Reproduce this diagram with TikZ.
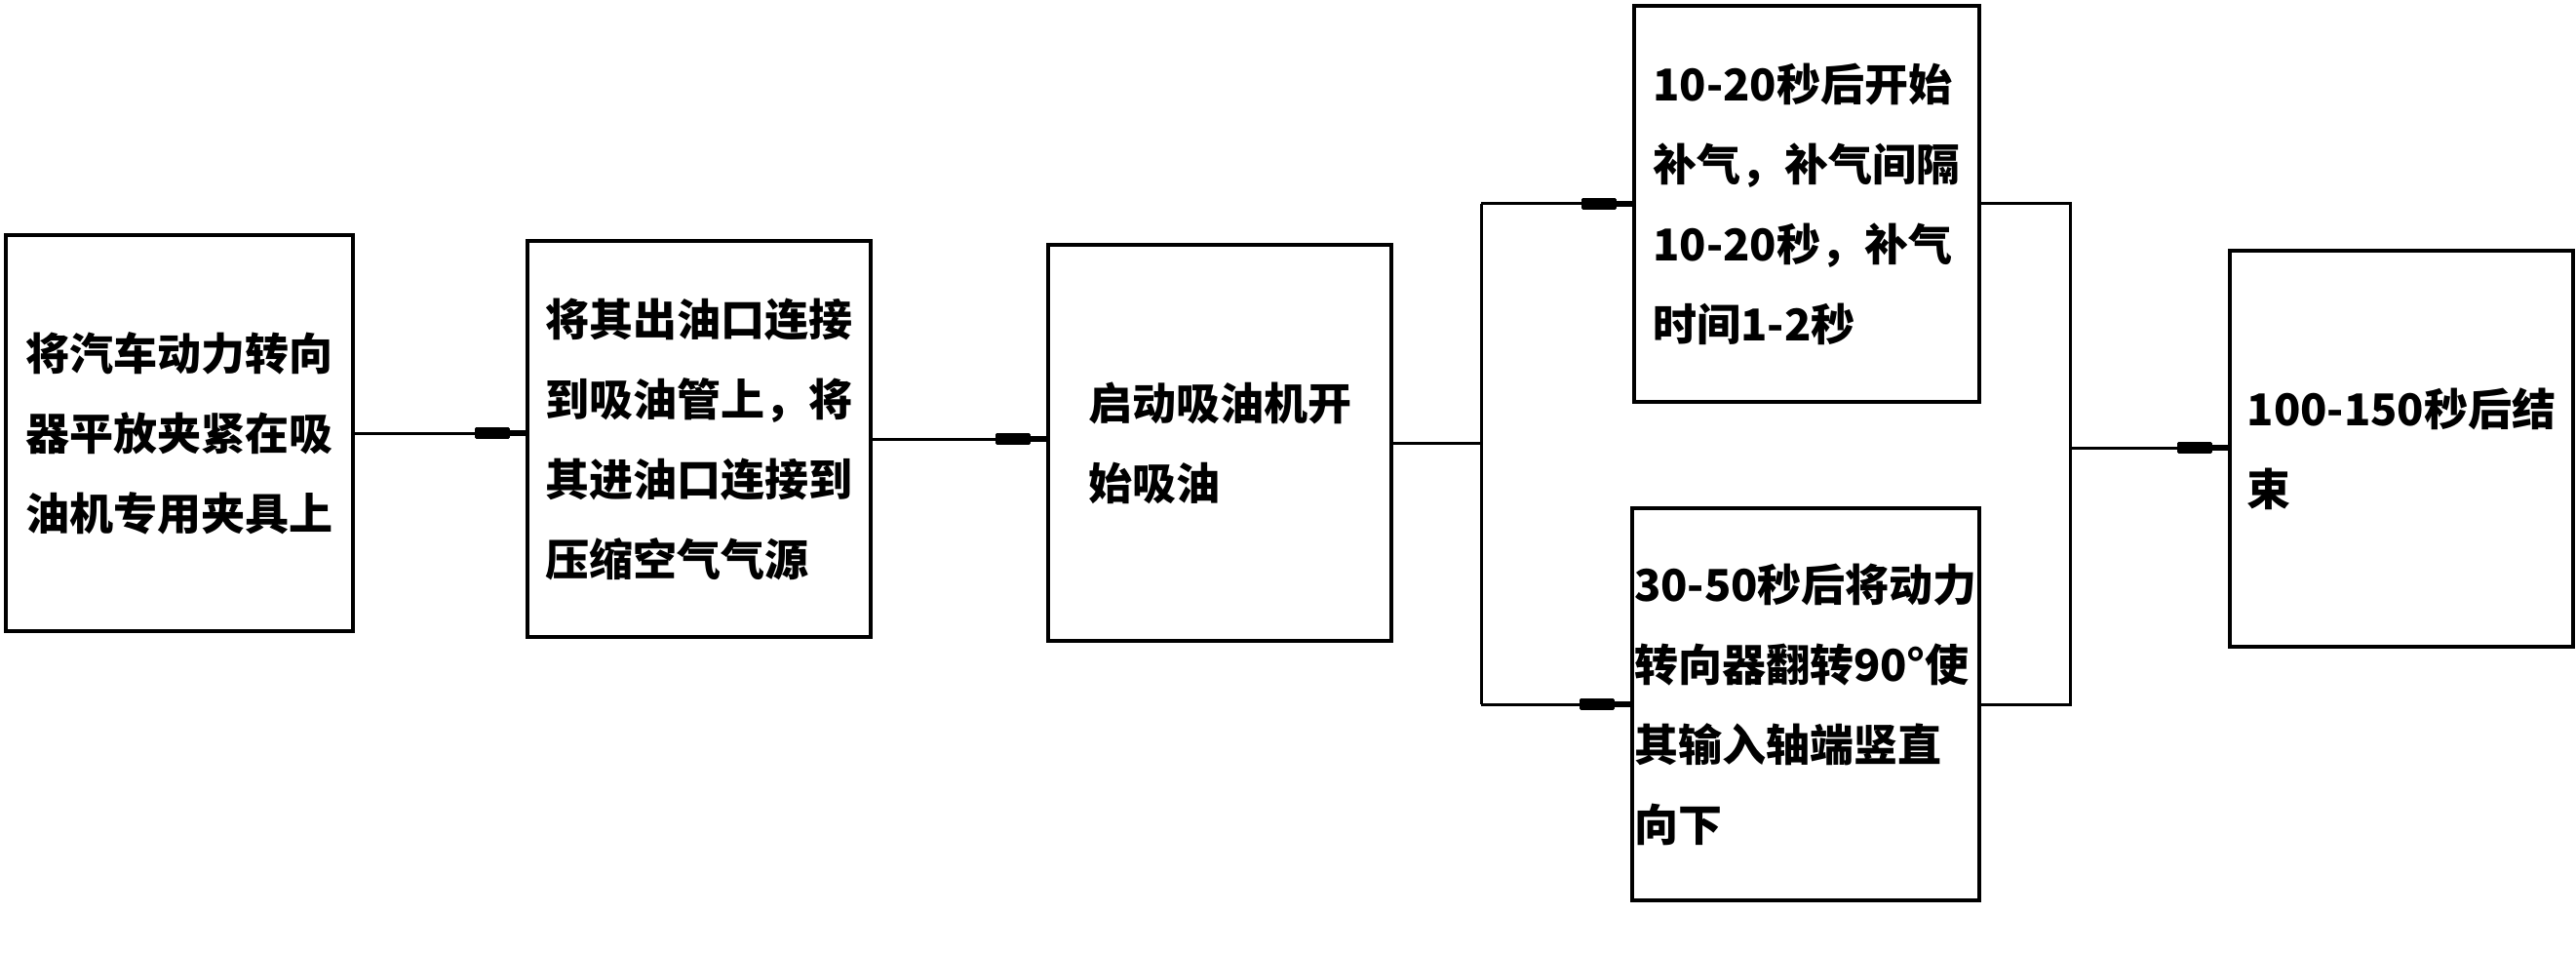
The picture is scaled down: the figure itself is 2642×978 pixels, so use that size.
\documentclass[tikz,border=0pt]{standalone}
\usepackage{fontspec}
\newfontfamily\cjk{Noto Sans CJK SC}
\usetikzlibrary{arrows.meta}

\tikzset{
  stepbox/.style={draw, line width=2pt, minimum width=176pt, minimum height=203pt,
    align=left, inner sep=0pt, font={\cjk\bfseries\fontsize{22.5pt}{41pt}\selectfont}},
  feed/.style={line width=1.5pt},
  plug/.style={feed, -{Rectangle[length=18pt,width=6pt,round] Rectangle[length=8pt,width=0pt 1.8]}}
}

\begin{document}
\begin{tikzpicture}[x=0.5pt, y=-0.5pt]
\useasboundingbox (0,0) rectangle (2642,978);


% Main row of steps
\node[stepbox, minimum width=178pt] (clamp) at (184,444)
  {将汽车动力转向\\器平放夹紧在吸\\油机专用夹具上};

\node[stepbox] (connect) at (717,450)
  {将其出油口连接\\到吸油管上，将\\其进油口连接到\\压缩空气气源};

\node[stepbox] (start) at (1251,454)
  {启动吸油机开\\始吸油};



% Parallel steps
\node[stepbox, minimum width=177pt] (refill) at (1853,209)
  {10-20秒后开始\\补气，补气间隔\\10-20秒，补气\\时间1-2秒};

\node[stepbox, minimum width=178pt, minimum height=201pt] (flip) at (1852,722)
  {30-50秒后将动力\\转向器翻转90°使\\其输入轴端竖直\\向下};



% Last step
\node[stepbox] (finish) at (2463,460)
  {100-150秒后结\\束};


% Branch points
\coordinate (split) at (1519,455);
\coordinate (merge) at (2123,459);


% Connectors
\draw[plug] (clamp.east) -- (clamp.east -| connect.west);
\draw[plug] (connect.east) -- (connect.east -| start.west);

\draw[feed] (start.east) -- (start.east -| split);
\draw[feed] (split |- refill.west) -- (split |- flip.west);
\draw[plug] (split |- refill.west) -- (refill.west);
\draw[plug] (split |- flip.west) -- (flip.west);

\draw[feed] (refill.east) -- (refill.east -| merge) -- (flip.east -| merge) -- (flip.east);
\draw[plug] (merge) -- (merge -| finish.west);

\end{tikzpicture}
\end{document}
